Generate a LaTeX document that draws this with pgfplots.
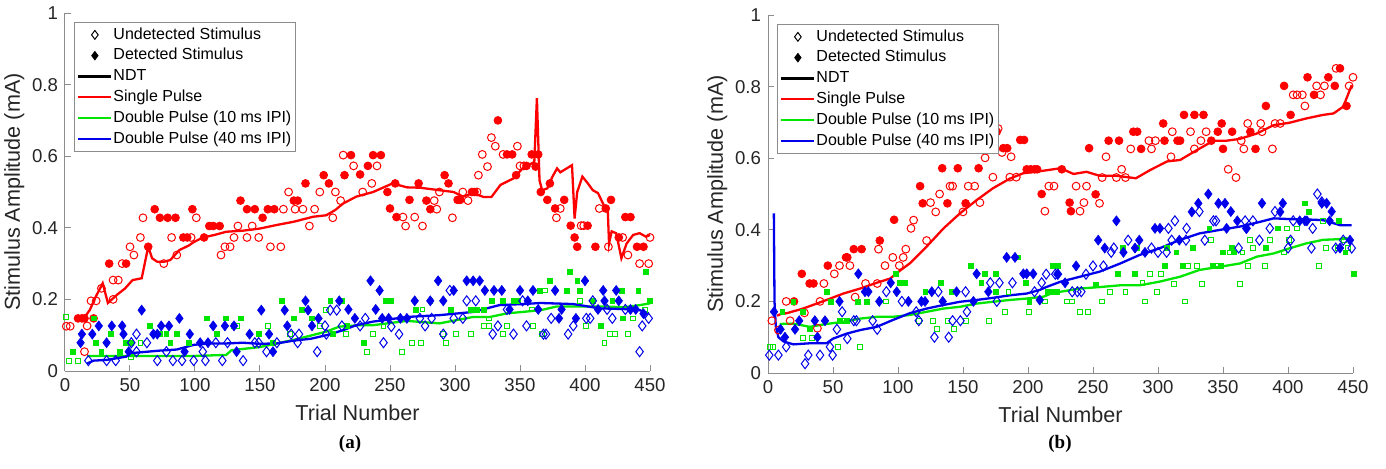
\documentclass[border=0pt]{standalone}
\usepackage{pgfplots}
\pgfplotsset{compat=1.18}
\usepackage{fontspec}
\setmainfont{Liberation Sans}
\newfontfamily\capfont{Liberation Serif}
\definecolor{mred}{RGB}{255,0,0}
\definecolor{mgreen}{RGB}{0,230,0}
\definecolor{mblue}{RGB}{0,0,235}
\definecolor{axgray}{RGB}{140,140,140}
\definecolor{txt}{RGB}{38,38,38}
\pgfplotsset{
  panel/.style={
    scale only axis, width=292.5pt, height=179pt,
    xmin=0, xmax=450, ymin=0, ymax=1, clip=false,
    axis x line*=bottom, axis y line*=left,
    axis line style={draw=axgray, line width=0.5pt},
    every tick/.style={draw=axgray, line width=0.5pt},
    tick align=inside, major tick length=3pt,
    xtick={0,50,100,150,200,250,300,350,400,450},
    ytick={0,0.2,0.4,0.6,0.8,1},
    /pgf/number format/assume math mode=true,
    ticklabel style={font=\fontsize{9.3}{11}\selectfont, text=txt},
    label style={font=\fontsize{10.8}{13}\selectfont, text=txt},
    ylabel shift=-3pt,
    xlabel={Trial Number}, ylabel={Stimulus Amplitude (mA)},
    legend cell align=left,
    legend style={at={(0.015,0.975)}, anchor=north west, draw=axgray, line width=0.5pt,
      fill=white, font=\fontsize{8}{9.6}\selectfont, text=black, inner xsep=1.5pt, inner ysep=2pt, row sep=2pt,
      nodes={inner sep=0.5pt, text height=5.8pt, text depth=1.6pt}},
  },
  oR/.style={only marks, mark=o, mark size=1.95pt, mred, mark options={line width=0.5pt}, forget plot},
  fR/.style={only marks, mark=*, mark size=1.95pt, mred, mark options={line width=0.4pt}, forget plot},
  oG/.style={only marks, mark=square, mark size=1.2pt, mgreen, mark options={line width=0.45pt}, forget plot},
  fG/.style={only marks, mark=square*, mark size=1.2pt, mgreen, mark options={line width=0.3pt}, forget plot},
  oB/.style={only marks, mark=diamond, mark size=2.5pt, mblue, mark options={line width=0.5pt}, forget plot},
  fB/.style={only marks, mark=diamond*, mark size=2.5pt, mblue, mark options={line width=0.3pt}, forget plot},
  lR/.style={mred, line width=1.15pt, no marks, forget plot},
  lG/.style={mgreen, line width=1.15pt, no marks, forget plot},
  lB/.style={mblue, line width=1.15pt, no marks, forget plot},
}
\newcommand{\panellegend}{%
  \addlegendimage{legend image code/.code={\draw[black,line width=0.5pt,mark=diamond,mark size=2.2pt] plot coordinates {(8.25pt,0pt)};}}
  \addlegendentry{Undetected Stimulus}
  \addlegendimage{legend image code/.code={\draw[black,line width=0.3pt,mark=diamond*,mark size=2.2pt] plot coordinates {(8.25pt,0pt)};}}
  \addlegendentry{Detected Stimulus}
  \addlegendimage{legend image code/.code={\draw[black,line width=1.1pt] (0pt,0pt) -- (16.5pt,0pt);}}
  \addlegendentry{NDT}
  \addlegendimage{legend image code/.code={\draw[mred,line width=1.1pt] (0pt,0pt) -- (16.5pt,0pt);}}
  \addlegendentry{Single Pulse}
  \addlegendimage{legend image code/.code={\draw[mgreen,line width=1.1pt] (0pt,0pt) -- (16.5pt,0pt);}}
  \addlegendentry{Double Pulse (10 ms IPI)}
  \addlegendimage{legend image code/.code={\draw[mblue,line width=1.1pt] (0pt,0pt) -- (16.5pt,0pt);}}
  \addlegendentry{Double Pulse (40 ms IPI)}
}
\begin{document}
\begin{tikzpicture}
\path[use as bounding box] (0pt,0pt) rectangle (693pt,234pt);
% ---------------- panel (a) ----------------
\begin{axis}[panel, at={(32.5pt,48.5pt)}, anchor=south west]
\panellegend
\addplot[oR] coordinates {(1,0.125)(4,0.125)(15,0.054)(17,0.126)(20,0.196)(24,0.196)(28,0.231)(37,0.20)(37,0.254)(41,0.254)(44,0.30)(50,0.347)(53,0.324)(58,0.373)(60,0.428)(76,0.30)(82,0.373)(86,0.324)(97,0.373)(101,0.428)(120,0.324)(123,0.347)(127,0.347)(130,0.373)(133,0.405)(140,0.373)(144,0.405)(149,0.373)(158,0.347)(166,0.347)(168,0.452)(172,0.50)(177,0.452)(183,0.452)(188,0.405)(192,0.452)(196,0.50)(206,0.428)(208,0.50)(212,0.476)(214,0.603)(222,0.573)(229,0.50)(236,0.524)(240,0.573)(260,0.43)(262,0.405)(269,0.43)(275,0.405)(284,0.476)(286,0.452)(288,0.50)(298,0.428)(306,0.50)(310,0.476)(317,0.50)(318,0.547)(321,0.605)(325,0.571)(328,0.652)(331,0.628)(337,0.605)(348,0.628)(350,0.573)(353,0.573)(378,0.428)(381,0.454)(397,0.406)(399,0.406)(411,0.454)(418,0.347)(429,0.373)(433,0.324)(442,0.30)(449,0.30)(450,0.373)};
\addplot[fR] coordinates {(10,0.147)(13,0.147)(15,0.147)(22,0.147)(34,0.30)(47,0.30)(64,0.347)(69,0.452)(73,0.428)(79,0.428)(85,0.428)(91,0.373)(94,0.373)(98,0.452)(107,0.373)(111,0.405)(114,0.405)(119,0.405)(135,0.476)(140,0.452)(146,0.452)(152,0.428)(156,0.452)(161,0.452)(176,0.476)(179,0.476)(185,0.524)(199,0.547)(203,0.524)(215,0.547)(220,0.603)(227,0.549)(233,0.573)(237,0.603)(243,0.603)(248,0.50)(250,0.454)(254,0.524)(255,0.43)(265,0.478)(272,0.524)(278,0.476)(281,0.452)(292,0.547)(295,0.524)(302,0.478)(304,0.478)(313,0.50)(315,0.50)(333,0.70)(340,0.605)(344,0.605)(347,0.547)(355,0.573)(359,0.605)(362,0.571)(364,0.605)(366,0.50)(371,0.478)(373,0.524)(377,0.454)(384,0.478)(389,0.406)(392,0.373)(394,0.347)(402,0.406)(408,0.347)(416,0.454)(420,0.478)(426,0.373)(431,0.43)(435,0.43)(440,0.347)(445,0.347)};
\addplot[oG] coordinates {(1,0.152)(3,0.029)(10,0.029)(51,0.04)(58,0.079)(132,0.126)(156,0.126)(173,0.103)(196,0.126)(201,0.17)(216,0.103)(232,0.054)(237,0.103)(245,0.126)(259,0.054)(267,0.079)(274,0.079)(275,0.172)(291,0.103)(293,0.079)(301,0.103)(312,0.103)(322,0.126)(326,0.126)(326,0.147)(337,0.103)(340,0.126)(359,0.172)(360,0.126)(367,0.103)(369,0.225)(396,0.196)(401,0.126)(415,0.079)(419,0.103)(423,0.103)(433,0.103)(437,0.147)(446,0.17)};
\addplot[fG] coordinates {(6,0.054)(22,0.147)(24,0.079)(28,0.054)(35,0.103)(42,0.054)(47,0.079)(51,0.079)(65,0.126)(73,0.103)(78,0.103)(81,0.079)(86,0.103)(95,0.079)(109,0.147)(117,0.103)(124,0.147)(130,0.126)(135,0.147)(149,0.103)(160,0.079)(167,0.196)(176,0.147)(182,0.17)(190,0.147)(204,0.196)(206,0.103)(213,0.196)(217,0.126)(230,0.079)(247,0.196)(251,0.196)(270,0.172)(281,0.196)(297,0.172)(312,0.172)(317,0.172)(322,0.172)(328,0.196)(337,0.196)(345,0.196)(348,0.196)(365,0.225)(373,0.252)(386,0.225)(388,0.277)(394,0.252)(396,0.225)(406,0.196)(412,0.126)(421,0.196)(428,0.225)(429,0.147)(441,0.225)(447,0.277)(450,0.196)};
\addplot[oB] coordinates {(18,0.029)(32,0.029)(39,0.029)(51,0.079)(55,0.103)(55,0.054)(63,0.079)(71,0.029)(78,0.054)(83,0.029)(90,0.029)(99,0.029)(106,0.054)(108,0.029)(116,0.079)(121,0.029)(125,0.079)(137,0.029)(146,0.079)(149,0.079)(155,0.054)(163,0.079)(174,0.103)(179,0.079)(180,0.103)(194,0.054)(200,0.126)(201,0.103)(204,0.17)(209,0.17)(213,0.126)(227,0.126)(231,0.147)(245,0.079)(251,0.124)(257,0.103)(273,0.147)(277,0.126)(282,0.147)(291,0.103)(296,0.225)(299,0.147)(306,0.147)(309,0.196)(316,0.196)(329,0.103)(333,0.126)(340,0.172)(345,0.103)(352,0.196)(355,0.126)(368,0.103)(370,0.103)(374,0.147)(387,0.103)(391,0.126)(401,0.147)(404,0.147)(406,0.196)(417,0.172)(421,0.147)(431,0.172)(442,0.054)(444,0.126)(449,0.147)};
\addplot[fB] coordinates {(12,0.079)(13,0.103)(21,0.103)(26,0.126)(32,0.079)(36,0.126)(44,0.126)(45,0.103)(49,0.054)(59,0.17)(68,0.103)(71,0.103)(74,0.126)(80,0.126)(88,0.147)(92,0.054)(96,0.103)(104,0.079)(110,0.079)(114,0.126)(123,0.126)(130,0.126)(132,0.054)(142,0.103)(151,0.17)(157,0.103)(160,0.054)(169,0.17)(171,0.126)(185,0.196)(187,0.17)(190,0.126)(195,0.147)(211,0.196)(218,0.172)(223,0.147)(235,0.252)(239,0.172)(242,0.225)(244,0.147)(249,0.147)(258,0.147)(263,0.147)(269,0.196)(281,0.196)(287,0.252)(291,0.196)(299,0.225)(309,0.252)(314,0.252)(319,0.252)(323,0.225)(330,0.225)(336,0.225)(342,0.172)(350,0.225)(356,0.196)(360,0.225)(364,0.172)(377,0.225)(380,0.147)(382,0.172)(393,0.147)(400,0.252)(410,0.172)(414,0.225)(415,0.196)(424,0.225)(426,0.196)(435,0.172)(439,0.172)(445,0.16)};
\addplot[lR] coordinates {(10,0.14)(15,0.15)(19,0.17)(24,0.21)(29,0.245)(33,0.19)(40,0.213)(46,0.23)(52,0.254)(59,0.259)(64,0.347)(67,0.315)(71,0.305)(76,0.305)(81,0.31)(88,0.338)(95,0.35)(99,0.36)(106,0.373)(115,0.38)(124,0.389)(137,0.392)(150,0.398)(163,0.408)(176,0.417)(191,0.431)(201,0.435)(208,0.45)(214,0.468)(224,0.487)(237,0.5)(252,0.524)(263,0.513)(273,0.512)(288,0.505)(299,0.5)(306,0.487)(314,0.497)(322,0.486)(328,0.486)(335,0.52)(345,0.538)(352,0.566)(361,0.584)(363,0.762)(365,0.533)(367,0.505)(371,0.51)(375,0.543)(378.5,0.566)(381,0.555)(390,0.575)(392,0.426)(394,0.5)(398,0.543)(402,0.525)(406,0.505)(410,0.497)(415,0.459)(417.5,0.45)(418.5,0.356)(420.5,0.39)(424,0.385)(428,0.315)(432,0.356)(437,0.38)(442,0.385)(447,0.375)(450,0.38)};
\addplot[lG] coordinates {(17,0.042)(40,0.042)(68,0.042)(99,0.042)(124,0.045)(128,0.058)(150,0.067)(176,0.087)(201,0.11)(211,0.124)(227,0.128)(237,0.128)(263,0.14)(288,0.133)(301,0.142)(314,0.151)(327,0.151)(340,0.161)(352,0.165)(366,0.17)(378,0.18)(391,0.18)(404,0.18)(417,0.18)(430,0.178)(442,0.184)(450,0.189)};
\addplot[lB] coordinates {(17,0.021)(22,0.029)(32,0.031)(47,0.04)(51,0.05)(73,0.057)(86,0.06)(99,0.073)(111,0.077)(124,0.077)(137,0.079)(150,0.076)(163,0.077)(176,0.085)(189,0.09)(201,0.10)(214,0.114)(224,0.128)(237,0.138)(263,0.151)(288,0.156)(314,0.165)(334,0.184)(352,0.187)(366,0.19)(391,0.187)(411,0.175)(430,0.173)(442,0.17)(449,0.161)};
\end{axis}
% ---------------- panel (b) ----------------
\begin{axis}[panel, at={(384pt,47.5pt)}, anchor=south west]
\panellegend
\addplot[oR] coordinates {(3,0.146)(8,0.12)(14,0.2)(17,0.146)(28,0.168)(38,0.125)(40,0.2)(43,0.25)(51,0.277)(55,0.30)(63,0.30)(67,0.212)(75,0.25)(84,0.25)(85,0.346)(90,0.30)(96,0.323)(101,0.30)(104,0.323)(106,0.346)(110,0.404)(112,0.427)(122,0.37)(125,0.476)(129,0.45)(132,0.50)(140,0.522)(142,0.522)(150,0.45)(154,0.522)(159,0.522)(163,0.476)(167,0.601)(173,0.547)(177,0.683)(180,0.616)(186,0.547)(187,0.604)(191,0.547)(213,0.452)(216,0.522)(220,0.522)(237,0.522)(240,0.452)(243,0.476)(245,0.522)(255,0.474)(257,0.546)(260,0.604)(268,0.546)(272,0.569)(275,0.546)(279,0.626)(293,0.649)(295,0.626)(298,0.649)(310,0.604)(311,0.674)(325,0.674)(328,0.626)(333,0.649)(337,0.674)(354,0.569)(360,0.546)(364,0.649)(366,0.626)(369,0.697)(379,0.697)(380,0.674)(388,0.626)(390,0.697)(394,0.697)(404,0.777)(407,0.777)(411,0.777)(413,0.746)(422,0.802)(425,0.777)(428,0.802)(437,0.851)(447,0.802)(450,0.826)};
\addplot[fR] coordinates {(20,0.2)(26,0.277)(32,0.25)(35,0.25)(46,0.30)(60,0.323)(61,0.323)(66,0.346)(72,0.346)(86,0.37)(97,0.428)(117,0.522)(119,0.474)(134,0.572)(138,0.474)(146,0.572)(152,0.474)(162,0.572)(176,0.674)(181,0.628)(184,0.628)(194,0.651)(197,0.651)(199,0.569)(202,0.569)(205,0.569)(207,0.569)(210.5,0.50)(226,0.569)(232,0.476)(233,0.452)(247,0.628)(252,0.499)(262,0.649)(270,0.649)(281,0.674)(284,0.674)(287,0.626)(304,0.697)(305,0.649)(315,0.649)(317,0.649)(320,0.721)(328,0.721)(335,0.721)(341,0.649)(346,0.674)(349,0.697)(350,0.626)(357,0.674)(371,0.674)(375,0.626)(383,0.746)(397,0.802)(402,0.721)(415,0.826)(420,0.777)(431,0.826)(436,0.802)(440,0.851)(445,0.746)};
\addplot[oG] coordinates {(1.5,0.073)(4,0.073)(27,0.098)(34,0.098)(54,0.073)(57,0.146)(71,0.073)(91,0.2)(116,0.146)(127,0.146)(130,0.122)(138,0.146)(143,0.122)(152,0.146)(170,0.146)(182,0.171)(185,0.227)(201,0.171)(213,0.2)(230,0.2)(234,0.2)(240,0.171)(246,0.171)(257,0.2)(263,0.227)(275,0.227)(288,0.252)(290,0.2)(294,0.276)(299,0.227)(302,0.276)(312,0.248)(321,0.2)(323,0.299)(330,0.299)(334,0.248)(341,0.371)(346,0.299)(355,0.337)(363,0.248)(365,0.337)(369,0.299)(371,0.371)(373,0.349)(382,0.299)(386,0.371)(397,0.337)(399,0.404)(401,0.371)(407,0.404)(424,0.299)(427,0.425)(429,0.349)(438,0.349)(443,0.371)(446,0.349)};
\addplot[fG] coordinates {(11,0.171)(19.5,0.2)(27,0.171)(32,0.122)(45,0.227)(48,0.2)(55,0.146)(61,0.146)(69,0.2)(76,0.2)(98,0.277)(101,0.252)(105,0.252)(121,0.227)(133,0.252)(141,0.227)(156,0.3)(164,0.252)(167,0.277)(175,0.277)(175.5,0.227)(192,0.323)(198,0.252)(201,0.2)(215,0.227)(219,0.3)(223,0.3)(220,0.227)(222,0.227)(252,0.248)(269,0.276)(273,0.349)(282,0.276)(284,0.349)(305,0.299)(307,0.349)(314,0.337)(319,0.299)(327,0.349)(339.5,0.404)(342,0.299)(348,0.299)(350,0.337)(357,0.349)(358,0.337)(383,0.349)(392,0.404)(413,0.474)(416,0.451)(439,0.425)(444,0.337)(450.7,0.276)};
\addplot[oB] coordinates {(1,0.05)(8,0.05)(14,0.073)(28.5,0.026)(31,0.05)(40,0.05)(47.7,0.073)(49.7,0.05)(53,0.122)(57,0.171)(61,0.096)(66,0.146)(68,0.146)(80.5,0.146)(84,0.122)(91,0.227)(103,0.2)(114,0.171)(116,0.146)(128,0.1)(131,0.227)(139,0.1)(142,0.146)(148,0.146)(152,0.227)(153,0.171)(171,0.252)(176,0.2)(178,0.252)(188,0.252)(205,0.227)(210.5,0.252)(214,0.276)(221,0.276)(223,0.276)(234,0.227)(238,0.227)(241,0.227)(244.6,0.276)(250,0.299)(258,0.299)(264,0.337)(266,0.349)(277,0.371)(295,0.349)(300,0.337)(306.6,0.337)(308,0.404)(310.5,0.371)(313,0.425)(321.5,0.371)(322,0.404)(331.8,0.451)(336,0.371)(342.6,0.425)(344.6,0.425)(362,0.349)(367,0.425)(368,0.404)(373,0.425)(378,0.371)(386,0.404)(390,0.451)(400,0.349)(402,0.371)(404,0.425)(418,0.349)(419,0.404)(422.6,0.5)(426,0.478)(436.7,0.349)(442.5,0.371)(449,0.349)};
\addplot[fB] coordinates {(4.6,0.171)(9.7,0.122)(13,0.1)(20.8,0.122)(24,0.146)(36,0.146)(38,0.1)(43.8,0.146)(55,0.2)(69.5,0.277)(74.6,0.227)(77.2,0.227)(85.6,0.2)(94.4,0.252)(99,0.227)(108,0.2)(118,0.2)(120.8,0.2)(126,0.227)(134.4,0.2)(145,0.227)(158,0.2)(160.5,0.277)(169.5,0.227)(183.6,0.323)(190,0.323)(196.4,0.277)(199,0.277)(204,0.277)(209,0.204)(222.6,0.276)(228.5,0.252)(237,0.299)(254,0.371)(259,0.349)(268,0.425)(273.4,0.337)(282.3,0.349)(285.6,0.371)(290,0.337)(297.7,0.404)(301.5,0.404)(316.4,0.371)(326,0.45)(331,0.474)(338.7,0.5)(346.5,0.474)(351.5,0.474)(352.8,0.404)(356,0.451)(361,0.425)(368,0.404)(380,0.474)(394,0.45)(396,0.474)(409,0.425)(413,0.425)(414.5,0.425)(426,0.474)(429.7,0.474)(432,0.425)(433.6,0.451)(440,0.349)(447.7,0.371)};
\addplot[lR] coordinates {(7,0.16)(10,0.165)(14.4,0.167)(27,0.18)(45,0.204)(58,0.222)(71,0.236)(83.6,0.252)(94,0.264)(101.5,0.286)(109,0.306)(122,0.353)(135,0.404)(147.7,0.446)(160.5,0.483)(173,0.516)(186,0.543)(196.4,0.558)(211.8,0.565)(225,0.572)(235,0.556)(245,0.562)(255,0.551)(268,0.551)(283,0.544)(294,0.567)(307,0.591)(317,0.595)(327.7,0.618)(342.6,0.649)(353,0.649)(363,0.654)(376,0.669)(388.7,0.692)(401,0.699)(414,0.711)(427,0.721)(435,0.725)(442.5,0.744)(449,0.804)};
\addplot[lG] coordinates {(9,0.137)(19.5,0.138)(32,0.129)(45,0.137)(58,0.143)(71,0.152)(83.6,0.157)(96,0.157)(109,0.162)(122,0.171)(135,0.18)(147.7,0.185)(160.5,0.194)(173,0.199)(186,0.204)(199,0.208)(211.8,0.213)(219,0.224)(225,0.227)(240,0.236)(255,0.24)(271,0.245)(286,0.245)(301,0.255)(317,0.269)(332,0.288)(348,0.297)(363,0.306)(376,0.325)(389,0.334)(401,0.348)(414,0.362)(427,0.372)(440,0.374)(448,0.376)};
\addplot[lB] coordinates {(4.5,0.446)(5,0.2)(6,0.13)(8,0.1)(12,0.088)(19.5,0.08)(32,0.083)(45,0.083)(50,0.096)(60.5,0.11)(71,0.12)(83.6,0.129)(96,0.148)(109,0.167)(122,0.18)(135,0.19)(147.7,0.199)(160.5,0.204)(173,0.21)(186,0.217)(199,0.222)(209,0.232)(214,0.24)(225,0.255)(240,0.269)(255,0.283)(271,0.306)(286,0.33)(301,0.348)(317,0.372)(332,0.39)(348,0.4)(363,0.409)(376,0.42)(389,0.432)(401,0.43)(414,0.429)(427,0.427)(440,0.413)(449,0.413)};
\end{axis}
\node[font=\capfont\bfseries\fontsize{9.5}{11}\selectfont, text=black] at (175pt,12pt) {(a)};
\node[font=\capfont\bfseries\fontsize{9.5}{11}\selectfont, text=black] at (530pt,12pt) {(b)};
\end{tikzpicture}
\end{document}
